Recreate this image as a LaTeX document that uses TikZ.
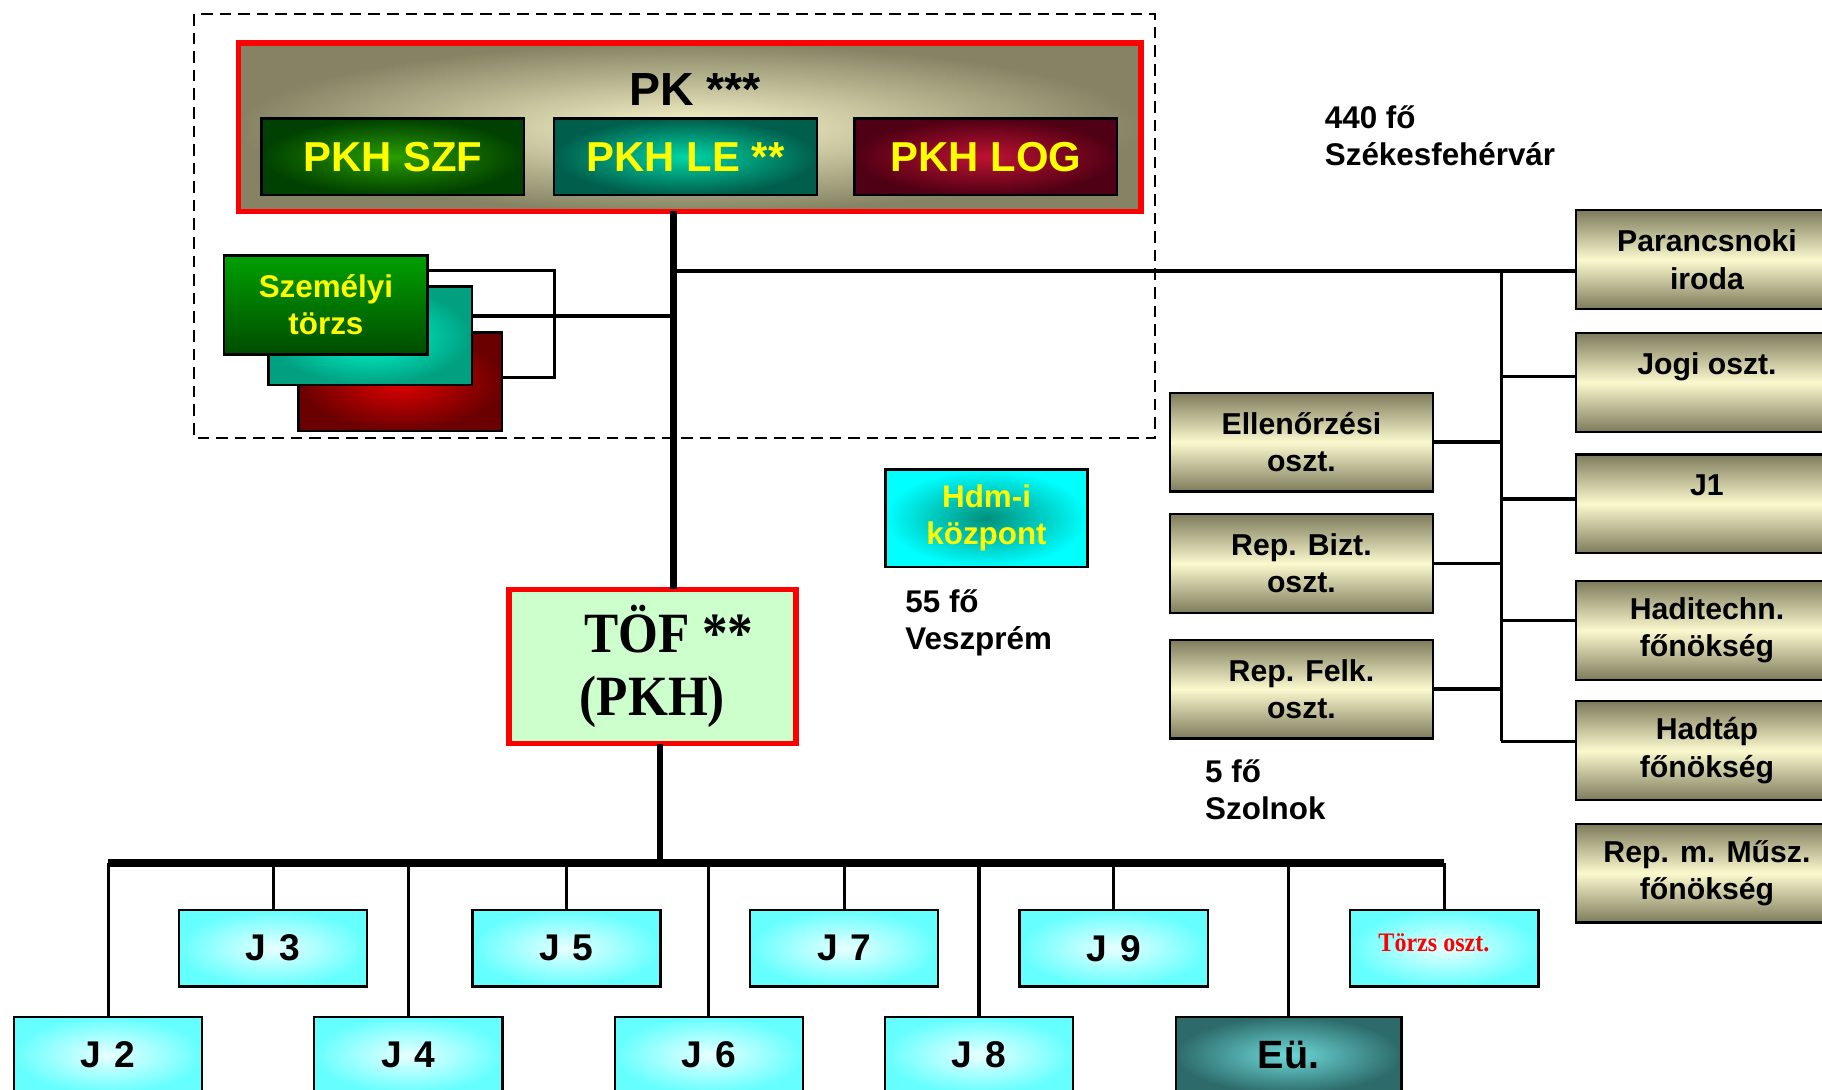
\documentclass[tikz,border=0pt]{standalone}
\usepackage{fontspec}
\setmainfont{Liberation Sans}
\newfontfamily\tofserif{Liberation Serif}[FakeStretch=0.9]
\usetikzlibrary{positioning}
\definecolor{OliveDark}{HTML}{7E7B5C}
\definecolor{OliveLight}{HTML}{FBF9CE}
\definecolor{PkOuter}{HTML}{858363}
\definecolor{PkInner}{HTML}{FAF7CC}
\definecolor{SzfOuter}{HTML}{004000}
\definecolor{SzfInner}{HTML}{2A9E00}
\definecolor{LeOuter}{HTML}{005E4C}
\definecolor{LeInner}{HTML}{00D6A6}
\definecolor{LogOuter}{HTML}{500014}
\definecolor{LogInner}{HTML}{BE1232}
\definecolor{CyanOuter}{HTML}{66FFFF}
\definecolor{CyanInner}{HTML}{E8FFFF}
\definecolor{EuOuter}{HTML}{2D6B6B}
\definecolor{EuInner}{HTML}{6ED8D8}
\definecolor{HdmInner}{HTML}{00907A}
\definecolor{TofFill}{HTML}{CCFFCC}
\definecolor{LabelYellow}{HTML}{FFFF00}
\definecolor{TorzsRed}{HTML}{FF0000}

\begin{document}
\begin{tikzpicture}[x=1pt,y=-1pt,
  box/.style={draw,line width=2pt,inner sep=0pt,outer sep=0pt,align=center},
  pkhbox/.style={box,minimum width=226pt,minimum height=66pt,text=LabelYellow,
    font=\fontsize{36}{40}\selectfont\bfseries},
  olivebox/.style={box,minimum width=226pt,minimum height=85pt,
    top color=OliveDark,bottom color=OliveDark,middle color=OliveLight,
    font=\fontsize{26}{32}\selectfont\bfseries},
  jbox/.style={box,minimum width=162pt,minimum height=66pt,
    inner color=CyanInner,outer color=CyanOuter,
    font=\fontsize{32}{38}\selectfont\bfseries},
  stackbox/.style={box,minimum width=175pt,minimum height=85pt},
  note/.style={anchor=west,align=left,inner sep=0pt,
    font=\fontsize{27}{32}\selectfont\bfseries},
  thickline/.style={line width=3.2pt},
  thinline/.style={line width=2.6pt},
]
\useasboundingbox (0,0) rectangle (1568,938);
\clip (0,0) rectangle (1568,938);

% parancsnokság
\draw[line width=2pt,dash pattern=on 10pt off 6pt] (167,12) rectangle (994,377);
\node[box,draw=red,line width=4.5pt,minimum width=777pt,minimum height=145pt,
      inner color=PkInner,outer color=PkOuter] (pk) at (593.5,109.5) {};
\node[font=\fontsize{40}{44}\selectfont\bfseries] (pkt) at (598,77) {PK ***};
\node[pkhbox,inner color=SzfInner,outer color=SzfOuter] (szf) at (338,135) {PKH SZF};
\node[pkhbox,inner color=LeInner,outer color=LeOuter] (le) at (590,135) {PKH LE **};
\node[pkhbox,inner color=LogInner,outer color=LogOuter] (log) at (848.5,135) {PKH LOG};

% személyi törzs
\node[stackbox,inner color={rgb,255:red,225;green,0;blue,0},
      outer color={rgb,255:red,106;green,0;blue,0}] (stackr) at (344.5,328.5) {};
\node[stackbox,inner color={rgb,255:red,0;green,255;blue,210},
      outer color={rgb,255:red,0;green,160;blue,128}] (stackt) at (318.5,289) {};
\node[stackbox,top color={rgb,255:red,0;green,160;blue,0},
      bottom color={rgb,255:red,0;green,76;blue,0},text=LabelYellow,
      font=\fontsize{27}{32}\selectfont\bfseries] (stackg) at (280.5,262.5) {Személyi\\törzs};

% TÖF
\node[box,draw=red,line width=4.5pt,fill=TofFill,minimum width=247pt,minimum height=133pt,
      font=\tofserif\bfseries\fontsize{49}{54}\selectfont] (tof) at (561.5,573.5)
      {\hspace*{28pt}TÖF **\\(PKH)};

% jobb oldali osztályok
\node[olivebox] (paran) at (1469,223.5) {Parancsnoki\\iroda};
\node[olivebox] (jogi) at (1469,329) {Jogi oszt.\\\mbox{}};
\node[olivebox] (jegy) at (1469,433.5) {J1\\\mbox{}};
\node[olivebox] (hadit) at (1469,542.5) {Haditechn.\\főnökség};
\node[olivebox] (hadtap) at (1469,646) {Hadtáp\\főnökség};
\node[olivebox] (repmusz) at (1469,751.5) {Rep. m. Műsz.\\főnökség};
\node[olivebox] (ellen) at (1120,380.5) {Ellenőrzési\\oszt.};
\node[olivebox] (bizt) at (1120,485) {Rep. Bizt.\\oszt.};
\node[olivebox] (felk) at (1120,593) {Rep. Felk.\\oszt.};

\node[box,minimum width=174pt,minimum height=84pt,inner color=HdmInner,outer color=cyan,
      text=LabelYellow,font=\fontsize{27}{32}\selectfont\bfseries] (hdm) at (849,446)
      {Hdm-i\\központ};

\node[note] (hq) at (1140,117) {440 fő\\Székesfehérvár};
\node[note] (vp) at (779,536) {55 fő\\Veszprém};
\node[note] (szol) at (1037,679.5) {5 fő\\Szolnok};

% J-k
\node[jbox] (j3) at (235,816) {J\hspace{0.35em}3};
\node[jbox] (j5) at (487.5,816) {J\hspace{0.35em}5};
\node[jbox] (j7) at (726.5,816) {J\hspace{0.35em}7};
\node[jbox] (j9) at (958.5,816) {J\hspace{0.35em}9};
\node[jbox,font=\tofserif\bfseries\fontsize{23}{28}\selectfont,text=TorzsRed] (torzs) at (1243,816)
      {\raisebox{10pt}{Törzs oszt.}\hspace*{18pt}};
\node[jbox] (j2) at (93,908) {J\hspace{0.35em}2};
\node[jbox] (j4) at (351.5,908) {J\hspace{0.35em}4};
\node[jbox] (j6) at (610,908) {J\hspace{0.35em}6};
\node[jbox] (j8) at (842.5,908) {J\hspace{0.35em}8};
\node[jbox,minimum width=194pt,inner color=EuInner,outer color=EuOuter,
      font=\fontsize{34}{40}\selectfont\bfseries] (eu) at (1109,908) {Eü.};

% vonalak
\coordinate (spine) at (580,233);
\coordinate (rv) at (1292,233);
\coordinate (brk) at (477,280);
\coordinate (bus) at (568,743);
\draw[line width=6pt] (spine |- pk.south) -- (spine |- tof.north);
\draw[thickline] (spine) -- (spine -| paran.west);
\path ([yshift=17pt]stackt.east) coordinate (tt);
\draw[thickline] (tt) -- (tt -| spine);
\draw[thinline] ([yshift=29.5pt]stackg.east) -| (brk) |- ([yshift=3.5pt]stackr.east);
\path ([yshift=8pt]hadtap.west) coordinate (rvb);
\draw[line width=2.2pt] (rv) -- (rv |- rvb);
\foreach \n/\s in {jogi/5,jegy/4,hadit/8.5,hadtap/8}{
  \path ([yshift=\s pt]\n.west) coordinate (t);
  \draw[thickline] (t) -- (t -| rv);
}
\foreach \n in {ellen,bizt,felk}
  \draw[thickline] (\n.east) -- (\n.east -| rv);
\draw[line width=5pt] (bus |- tof.south) -- (bus);
\draw[line width=7pt] (j2.north |- bus) -- (torzs.north |- bus);
\foreach \n in {j2,j3,j4,j5,j6,j7,j8,j9,eu,torzs}
  \draw[thinline] (\n.north) -- (\n.north |- bus);
\end{tikzpicture}
\end{document}
